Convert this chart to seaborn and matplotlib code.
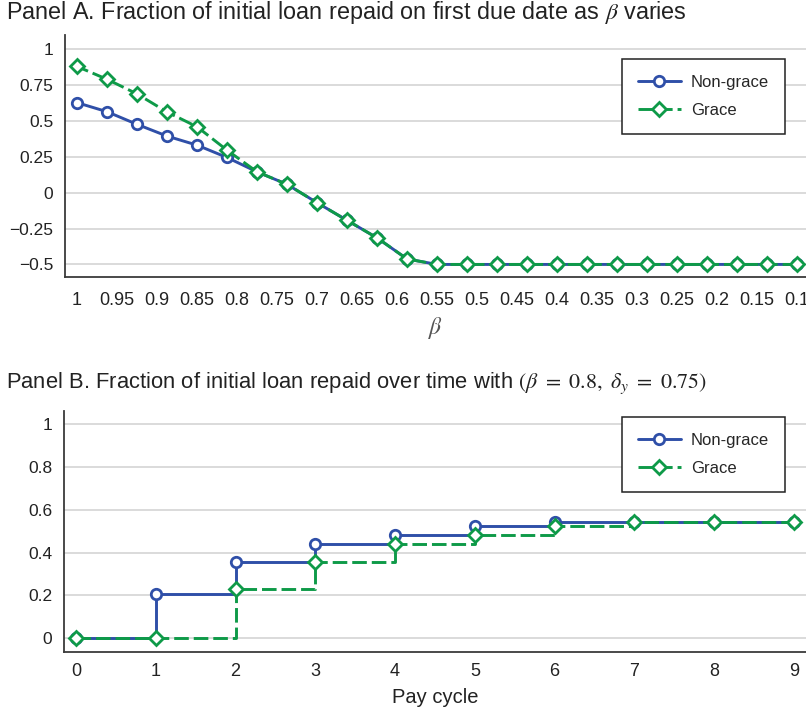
import matplotlib
matplotlib.use("Agg")
import matplotlib.pyplot as plt
from matplotlib import font_manager
import seaborn as sns
import pandas as pd

# Panel A: repayment on first due date vs beta
beta = [1.0, 0.9625, 0.925, 0.8875, 0.85, 0.8125, 0.775, 0.7375, 0.7, 0.6625,
        0.625, 0.5875, 0.55, 0.5125, 0.475, 0.4375, 0.4, 0.3625, 0.325, 0.2875,
        0.25, 0.2125, 0.175, 0.1375, 0.1]
nongrace_a = [0.627, 0.564, 0.476, 0.394, 0.331, 0.245, 0.145, 0.058, -0.070, -0.193,
              -0.315, -0.462, -0.5, -0.5, -0.5, -0.5, -0.5, -0.5, -0.5, -0.5,
              -0.5, -0.5, -0.5, -0.5, -0.5]
grace_a = [0.879, 0.790, 0.688, 0.562, 0.459, 0.296, 0.145, 0.058, -0.070, -0.193,
           -0.315, -0.462, -0.5, -0.5, -0.5, -0.5, -0.5, -0.5, -0.5, -0.5,
           -0.5, -0.5, -0.5, -0.5, -0.5]
beta_ticks = [1, 0.95, 0.9, 0.85, 0.8, 0.75, 0.7, 0.65, 0.6, 0.55, 0.5, 0.45,
              0.4, 0.35, 0.3, 0.25, 0.2, 0.15, 0.1]
beta_ticklabels = ["1", "0.95", "0.9", "0.85", "0.8", "0.75", "0.7", "0.65", "0.6",
                   "0.55", "0.5", "0.45", "0.4", "0.35", "0.3", "0.25", "0.2", "0.15", "0.1"]
ya_ticks = [1, 0.75, 0.5, 0.25, 0, -0.25, -0.5]
ya_ticklabels = ["1", "0.75", "0.5", "0.25", "0", "\u22120.25", "\u22120.5"]

# Panel B: repayment over pay cycles
cycle = [0, 1, 2, 3, 4, 5, 6, 7, 8, 9]
nongrace_b = [0, 0.208, 0.355, 0.439, 0.481, 0.524, 0.544, 0.545, 0.545, 0.545]
grace_b = [0, 0, 0.230, 0.355, 0.439, 0.481, 0.524, 0.543, 0.545, 0.545]
yb_ticks = [0, 0.2, 0.4, 0.6, 0.8, 1]
yb_ticklabels = ["0", "0.2", "0.4", "0.6", "0.8", "1"]

BLUE = "#2f4fa8"
GREEN = "#0e9a48"

sns.set_style("white")
plt.rcParams["font.family"] = ["Liberation Sans", "DejaVu Sans"]
plt.rcParams["mathtext.fontset"] = "stix"

names = {f.name for f in font_manager.fontManager.ttflist}
narrow = ["Liberation Sans Narrow", "DejaVu Sans"] if "Liberation Sans Narrow" in names \
    else ["Liberation Sans", "DejaVu Sans"]

fig = plt.figure(figsize=(8.06, 7.09), dpi=100)
ax_a = fig.add_axes([0.0806, 0.609, 0.9194, 0.342])
ax_b = fig.add_axes([0.0794, 0.0804, 0.9206, 0.340])

line_kw = dict(linewidth=2.1, markersize=7.5, markeredgewidth=2.0, markerfacecolor="white")
dash = (0, (5, 1.7))


def style_axis(ax, yticks, yticklabels, xticks, xticklabels, xpad):
    for s in ["top", "right"]:
        ax.spines[s].set_visible(False)
    for s in ["left", "bottom"]:
        ax.spines[s].set_color("#3a3a3a")
        ax.spines[s].set_linewidth(1.3)
    ax.set_yticks(yticks)
    ax.set_yticklabels(yticklabels, fontsize=12.5)
    ax.set_xticks(xticks)
    ax.set_xticklabels(xticklabels, fontsize=13, family=narrow)
    ax.tick_params(axis="both", direction="out", length=5, width=1.3, color="#3a3a3a",
                   labelcolor="#222222")
    ax.tick_params(axis="x", pad=xpad)
    ax.yaxis.grid(True, color="#d4d4d4", linewidth=1.2)
    ax.xaxis.grid(False)
    ax.set_axisbelow(True)


def add_legend(ax, top):
    leg = ax.legend(loc="upper right", bbox_to_anchor=(0.9717, top), borderaxespad=0,
                    fontsize=12, frameon=True, fancybox=False, framealpha=1,
                    edgecolor="#222222", handlelength=2.6, borderpad=0.95,
                    labelspacing=0.8, handletextpad=0.6, numpoints=1)
    leg.get_frame().set_linewidth(1.1)


# ---- Panel A
df_a = pd.DataFrame({"beta": beta, "nongrace": nongrace_a, "grace": grace_a})
sns.lineplot(data=df_a, x="beta", y="nongrace", ax=ax_a, color=BLUE, marker="o",
             markeredgecolor=BLUE, label="Non-grace", **line_kw)
sns.lineplot(data=df_a, x="beta", y="grace", ax=ax_a, color=GREEN, marker="D",
             markeredgecolor=GREEN, linestyle=dash, label="Grace",
             **{**line_kw, "markersize": 7})
ax_a.set_xlim(1.015, 0.089)
ax_a.set_ylim(-0.589, 1.10)
style_axis(ax_a, ya_ticks, ya_ticklabels, beta_ticks, beta_ticklabels, 6)
ax_a.set_xlabel(r"$\beta$", fontsize=17, color="#555555", labelpad=4)
ax_a.set_ylabel("")
add_legend(ax_a, 0.901)

# ---- Panel B
df_b = pd.DataFrame({"cycle": cycle, "nongrace": nongrace_b, "grace": grace_b})
sns.lineplot(data=df_b, x="cycle", y="nongrace", ax=ax_b, color=BLUE, marker="o",
             markeredgecolor=BLUE, drawstyle="steps-post", label="Non-grace", **line_kw)
sns.lineplot(data=df_b, x="cycle", y="grace", ax=ax_b, color=GREEN, marker="D",
             markeredgecolor=GREEN, linestyle=dash, drawstyle="steps-post", label="Grace",
             **{**line_kw, "markersize": 7})
ax_b.set_xlim(-0.15, 9.15)
ax_b.set_ylim(-0.064, 1.062)
style_axis(ax_b, yb_ticks, yb_ticklabels, cycle, [str(c) for c in cycle], 3)
ax_b.set_xlabel("Pay cycle", fontsize=14.5, family=narrow, color="#222222", labelpad=6)
ax_b.set_ylabel("")
add_legend(ax_b, 0.975)

# ---- Titles
fig.text(0.008, 1 - 13 / 709, r"Panel A. Fraction of initial loan repaid on first due date as $\beta$ varies",
         fontsize=16.8, va="center", ha="left", color="#222222")
fig.text(0.008, 1 - 383 / 709,
         r"Panel B. Fraction of initial loan repaid over time with $(\beta\ =\ 0.8,\ \delta_y\ =\ 0.75)$",
         fontsize=15.8, va="center", ha="left", color="#222222", family=narrow)

fig.savefig("out.png", dpi=100)
